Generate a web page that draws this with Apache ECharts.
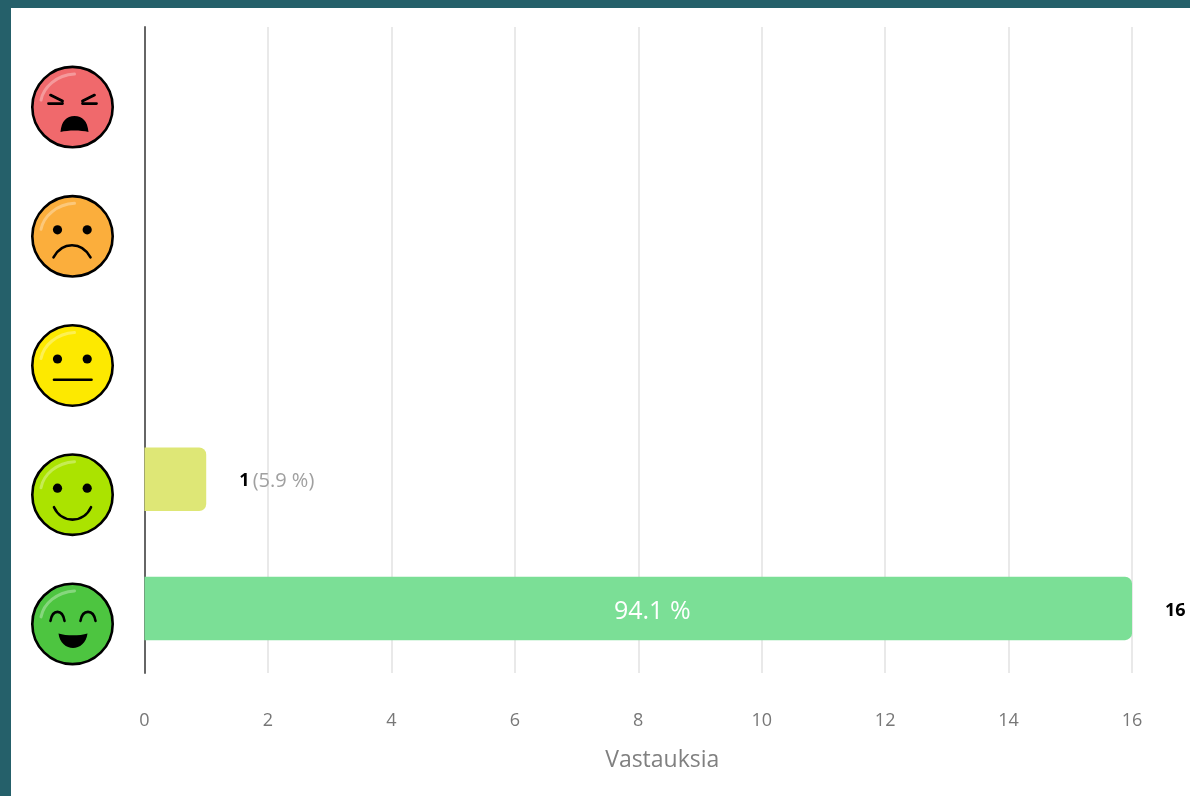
<!DOCTYPE html>
<html><head><meta charset="utf-8">
<style>
html,body{margin:0;padding:0;width:1190px;height:796px;background:#25606a;overflow:hidden}
#main{position:absolute;left:11px;top:8px;width:1179px;height:788px;background:#fff}
</style>
<script src="https://cdn.jsdelivr.net/npm/echarts@6/dist/echarts.min.js"></script>
</head><body><div id="main"></div>
<script>
const categories = ['angry','sad','neutral','happy','veryHappy'];
const answers = [0,0,0,1,16];
const shares = [0,0,0,5.9,94.1];
const barColors = ['#f46d6d','#fbae3c','#fdea00','#dee776','#7bdf96'];
const tickLabels = [0,2,4,6,8,10,12,14,16];
const axisTitle = 'Vastauksia';

const faceFill = {angry:'#f0696c',sad:'#fbae3c',neutral:'#fde900',happy:'#abe300',veryHappy:'#4dc540'};
const dots = '<circle cx="29" cy="37.5" r="4.6" fill="#000"/><circle cx="58.7" cy="37.5" r="4.6" fill="#000"/>';
const s = 'fill="none" stroke="#000" stroke-linecap="round"';
const faceArt = {
  angry:`<path d="M22 32L34 38M20 40.5H34M66 32L54 38M68 40.5H54" ${s} stroke-width="2.8"/><path d="M32 69C33 58 38 53 46 53C54 53 59 58 60 69C52 67 40 67 32 69Z" fill="#000"/>`,
  sad:dots+`<path d="M25 65C34 49 53 49 62 65" ${s} stroke-width="2.6"/>`,
  neutral:dots+`<path d="M25.5 58.3H63" ${s} stroke-width="2.6"/>`,
  happy:dots+`<path d="M25.5 56.5C33 73 55 73 62.5 56.5" ${s} stroke-width="2.6"/>`,
  veryHappy:`<path d="M22 41C24 29 34 29 36 41M52 41C54 29 65 29 67 41" ${s} stroke-width="2.6"/><path d="M30 53.5C38 56 51 56 59 53.5C58 63 51 68 44.5 68C38 68 31 63 30 53.5Z" fill="#000"/>`
};
function faceUri(k){
  const svg=`<svg xmlns="http://www.w3.org/2000/svg" width="88" height="88" viewBox="0 0 88 88"><circle cx="44" cy="44" r="40.2" fill="${faceFill[k]}" stroke="#000" stroke-width="2.6"/><path d="M12.5 37C15 24 28 12 46 11" fill="none" stroke="#fff" stroke-opacity=".32" stroke-width="3" stroke-linecap="round"/>${faceArt[k]}</svg>`;
  return 'data:image/svg+xml;charset=utf-8,'+encodeURIComponent(svg);
}
const rich={spacer:{height:31,width:88}};
categories.forEach(k=>{rich[k]={width:88,height:88,backgroundColor:{image:faceUri(k)}};});
const font='"Open Sans"';
const chart=echarts.init(document.getElementById('main'),null,{renderer:'canvas'});
chart.setOption({
  animation:false,
  backgroundColor:'#fff',
  grid:{left:133.5,right:58,top:19,bottom:123,containLabel:false},
  xAxis:{type:'value',min:0,max:16,interval:2,
    name:axisTitle,nameLocation:'middle',nameGap:76,
    nameTextStyle:{fontFamily:font,fontSize:23,color:'#808080',fontWeight:400,padding:[0,0,0,48]},
    axisLine:{show:false},axisTick:{show:false},
    axisLabel:{margin:39,fontFamily:font,fontSize:18,fontWeight:400,color:'#777',
      formatter:v=>tickLabels.includes(v)?String(v):''},
    splitLine:{show:true,lineStyle:{color:'#e9e9e9',width:2}}},
  yAxis:{type:'category',inverse:true,data:categories,
    axisLine:{show:true,onZero:false,lineStyle:{color:'#666',width:2}},
    axisTick:{show:false},
    axisLabel:{margin:28,formatter:v=>`{spacer|}\n{${v}|}`,rich}},
  series:[{
    type:'bar',barWidth:63.5,z:3,
    data:answers.map((v,i)=>({value:v,itemStyle:{color:barColors[i],borderRadius:[0,7,7,0]}})),
    label:{show:true,position:'right',distance:33,fontFamily:font,offset:[0,2],
      formatter:p=>{
        if(!p.value)return '';
        const sh=shares[p.dataIndex];
        return sh>50?`{b|${p.value}}`:`{b|${p.value}} {g|(${sh} %)}`;
      },
      rich:{b:{fontFamily:font,fontSize:18,fontWeight:700,color:'#000'},
            g:{fontFamily:font,fontSize:20,fontWeight:400,color:'#a0a0a0'}}}
  },{
    type:'bar',barWidth:63.5,barGap:'-100%',z:4,silent:true,
    data:answers,itemStyle:{color:'transparent'},
    label:{show:true,position:'inside',fontFamily:font,fontSize:25,fontWeight:400,color:'#fff',offset:[14,3],
      formatter:p=>shares[p.dataIndex]>50?`${shares[p.dataIndex]} %`:''}
  }]
});
</script></body></html>
